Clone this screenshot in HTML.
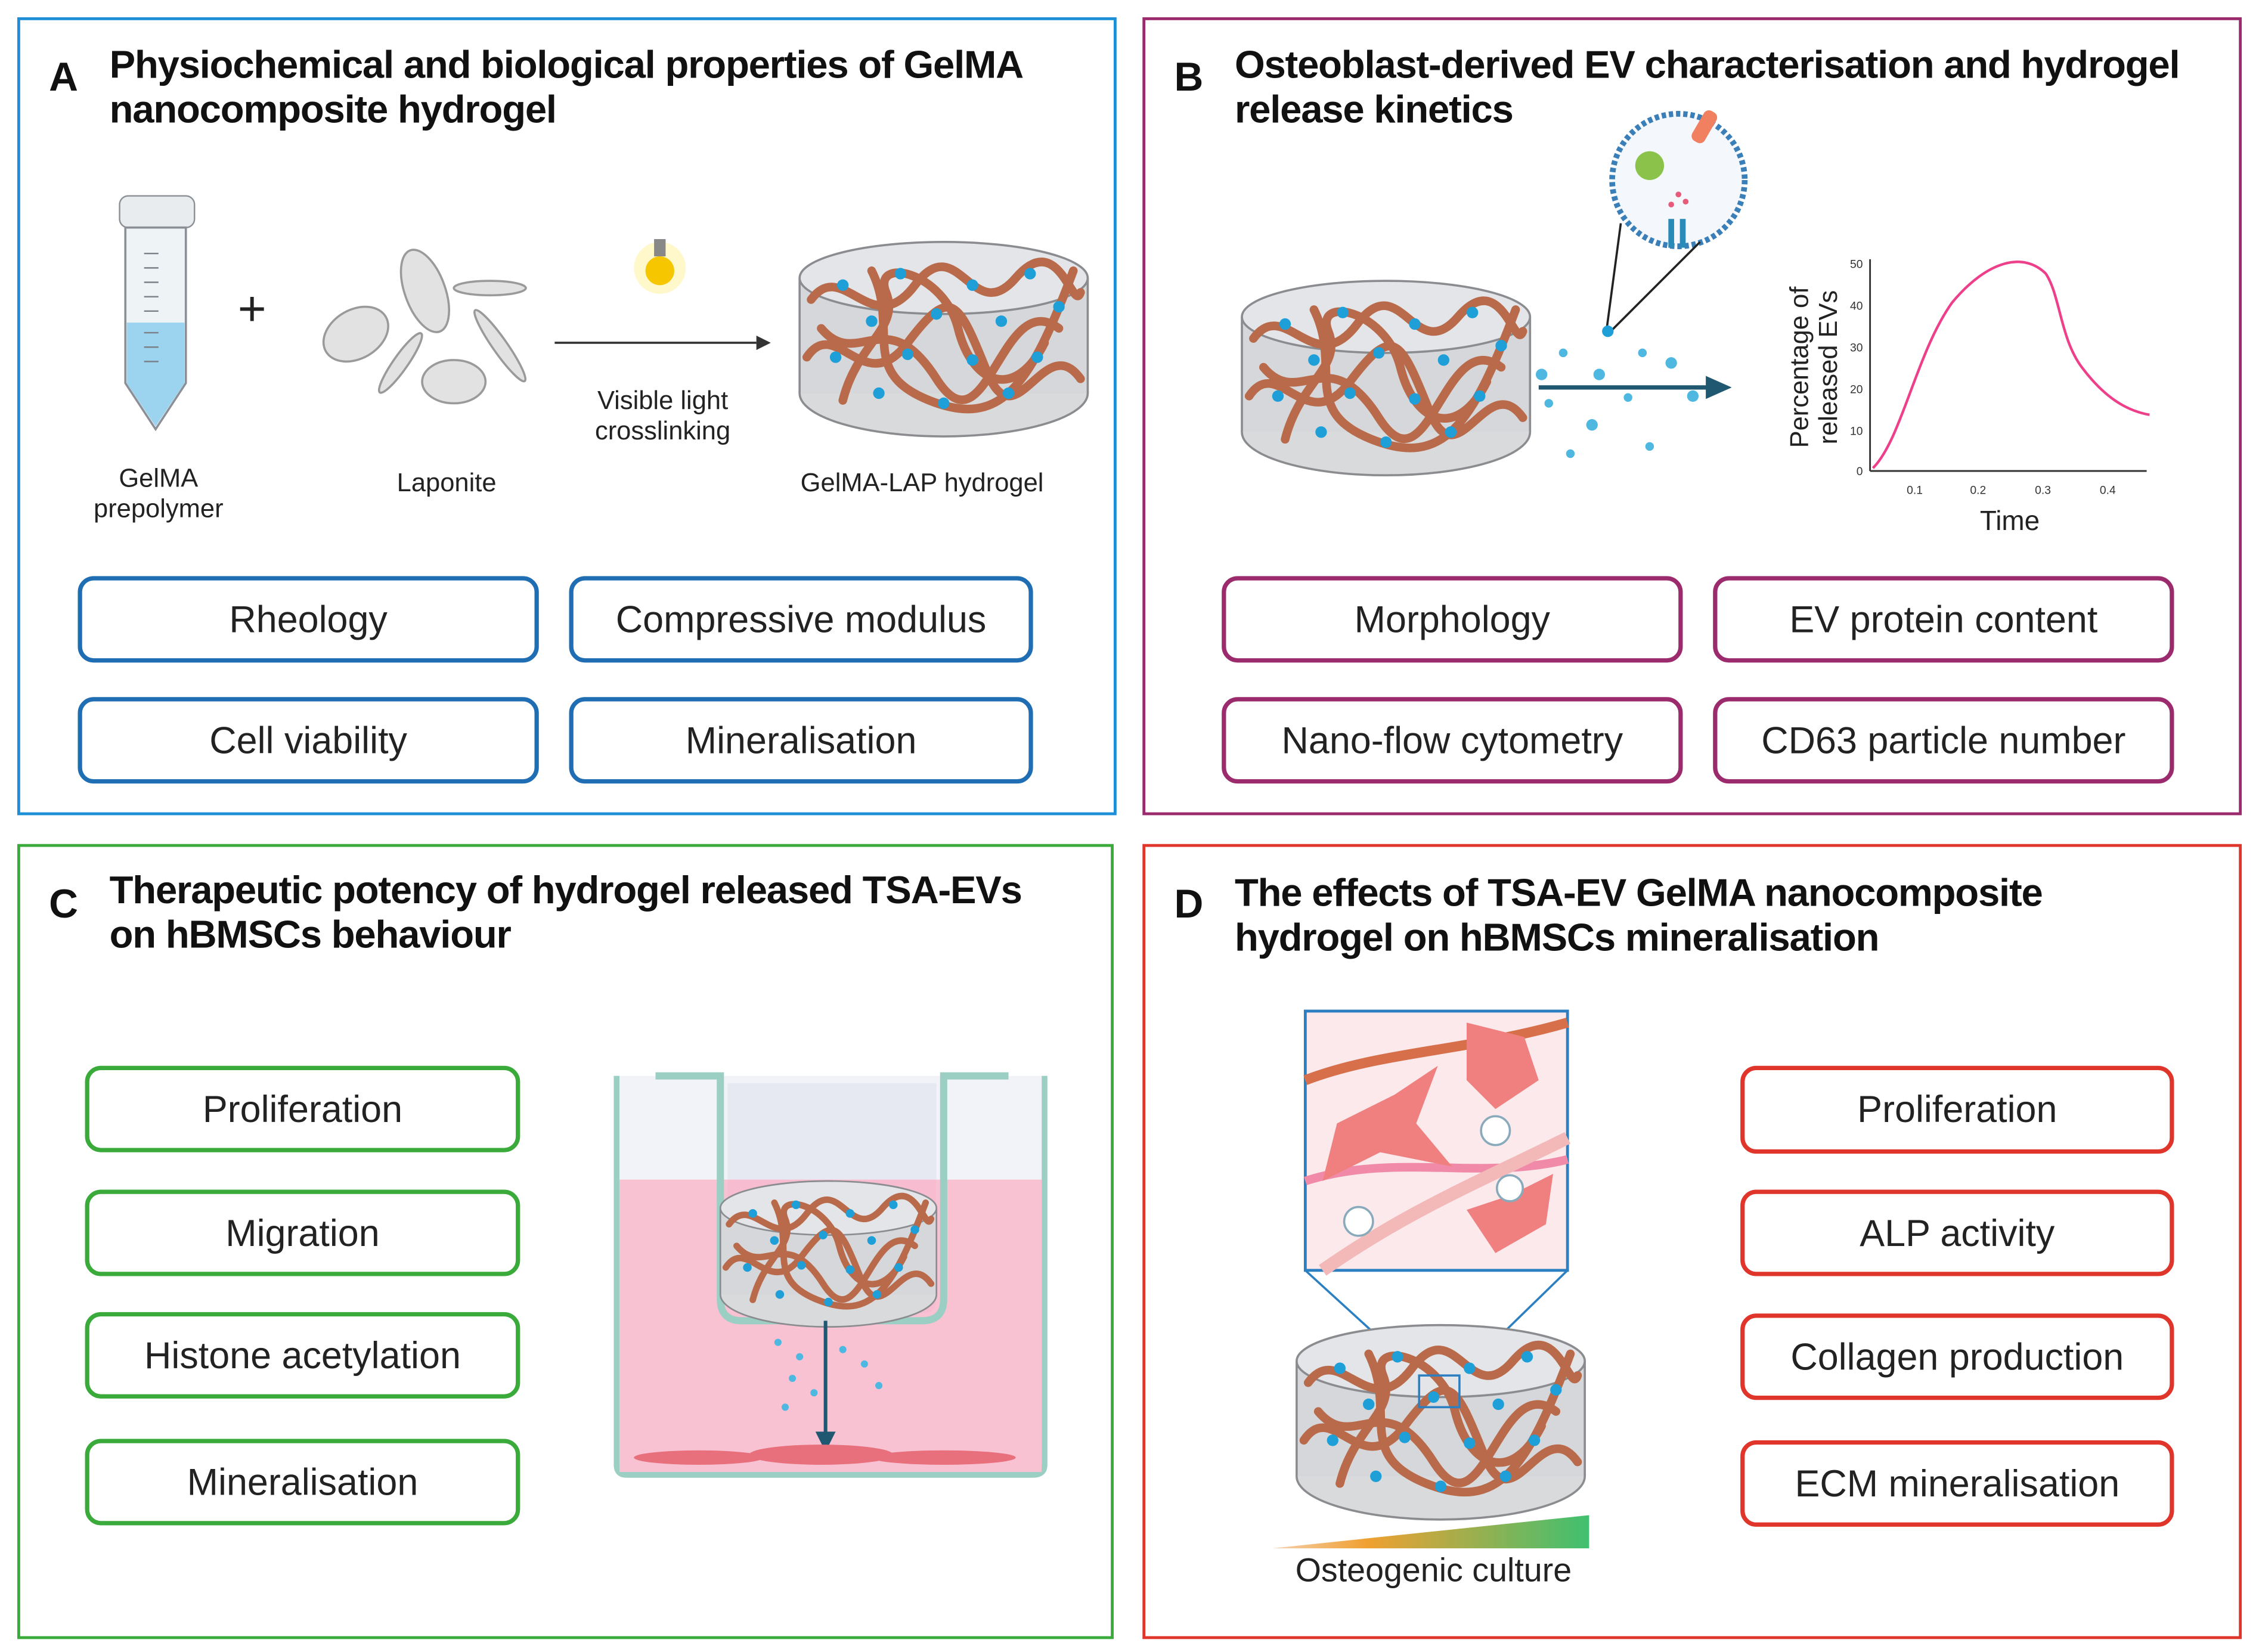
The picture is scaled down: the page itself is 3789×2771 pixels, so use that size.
<!DOCTYPE html>
<html><head><meta charset="utf-8">
<style>
html,body{margin:0;padding:0;background:#fff;}
body{width:3789px;height:2771px;overflow:hidden;font-family:"Liberation Sans",sans-serif;}
#w{position:absolute;left:0;top:0;width:1568px;height:1147px;transform:scale(2.4165,2.4159);transform-origin:0 0;}
.p{position:absolute;box-sizing:border-box;border:2px solid;}
.t{position:absolute;font-weight:bold;font-size:27px;line-height:31px;color:#111;letter-spacing:-0.5px;}
.L{position:absolute;font-weight:bold;font-size:28px;color:#111;}
.b{position:absolute;box-sizing:border-box;border:3px solid;border-radius:11px;display:flex;align-items:center;justify-content:center;font-size:26px;color:#222;background:#fff;}
.s{position:absolute;font-size:18px;color:#222;text-align:center;line-height:21px;}
svg{position:absolute;overflow:visible;}
</style></head><body><div id="w">
<svg width="0" height="0"><defs>
<g id="gel">
<ellipse cx="100" cy="105" rx="100" ry="30" fill="#d9dadc" stroke="#8a8c90" stroke-width="1.5"/>
<rect x="0" y="25" width="200" height="80" fill="#d6d7da"/>
<line x1="0" y1="25" x2="0" y2="105" stroke="#8a8c90" stroke-width="1.5"/>
<line x1="200" y1="25" x2="200" y2="105" stroke="#8a8c90" stroke-width="1.5"/>
<ellipse cx="100" cy="25" rx="100" ry="25" fill="#e4e5e8" stroke="#8a8c90" stroke-width="1.5"/>
<g fill="none" stroke="#b86a4a" stroke-width="6" stroke-linecap="round">
<path d="M8 40 C30 10,50 70,80 30 S120 60,150 25 S190 50,195 35"/>
<path d="M5 80 C25 50,45 110,75 70 S110 40,130 90 S170 60,195 95"/>
<path d="M30 110 C40 70,70 60,60 35 S100 20,110 60 S150 110,170 70"/>
<path d="M15 60 C40 90,60 40,95 95 S140 30,180 60"/>
<path d="M50 20 C70 60,40 90,90 110 S160 100,190 20"/>
</g>
<g fill="#1e9fd8">
<circle cx="30" cy="30" r="4"/><circle cx="70" cy="22" r="4"/><circle cx="120" cy="30" r="4"/><circle cx="160" cy="22" r="4"/>
<circle cx="50" cy="55" r="4"/><circle cx="95" cy="50" r="4"/><circle cx="140" cy="55" r="4"/><circle cx="180" cy="45" r="4"/>
<circle cx="25" cy="80" r="4"/><circle cx="75" cy="78" r="4"/><circle cx="120" cy="82" r="4"/><circle cx="165" cy="80" r="4"/>
<circle cx="55" cy="105" r="4"/><circle cx="100" cy="112" r="4"/><circle cx="145" cy="105" r="4"/>
</g>
</g>
</defs></svg>

<div class="p" style="left:12px;top:12px;width:763px;height:554px;border-color:#1d8fd6"></div>
<div class="p" style="left:793px;top:12px;width:763px;height:554px;border-color:#9b2b6c"></div>
<div class="p" style="left:12px;top:586px;width:761px;height:552px;border-color:#3aaa3a"></div>
<div class="p" style="left:793px;top:586px;width:763px;height:552px;border-color:#e0352b"></div>

<div class="L" style="left:34px;top:38px">A</div>
<div class="t" style="left:76px;top:30px">Physiochemical and biological properties of GelMA<br>nanocomposite hydrogel</div>
<div class="L" style="left:815px;top:38px">B</div>
<div class="t" style="left:857px;top:30px">Osteoblast-derived EV characterisation and hydrogel<br>release kinetics</div>
<div class="L" style="left:34px;top:612px">C</div>
<div class="t" style="left:76px;top:603px">Therapeutic potency of hydrogel released TSA-EVs<br>on hBMSCs behaviour</div>
<div class="L" style="left:815px;top:612px">D</div>
<div class="t" style="left:857px;top:605px">The effects of TSA-EV GelMA nanocomposite<br>hydrogel on hBMSCs mineralisation</div>

<svg style="left:80px;top:136px" width="60" height="165">
<rect x="3" y="0" width="52" height="22" rx="6" fill="#e8ecef" stroke="#8a9096"/>
<path d="M7 22 L7 130 L28 162 L49 130 L49 22 Z" fill="#eef3f6" stroke="#8a9096" stroke-width="1.5"/>
<path d="M8 88 L48 88 L48 130 L28 160 L8 130 Z" fill="#9cd3ef"/>
<g stroke="#7a8088" stroke-width="1">
<line x1="20" y1="40" x2="30" y2="40"/><line x1="20" y1="50" x2="30" y2="50"/><line x1="20" y1="60" x2="30" y2="60"/><line x1="20" y1="70" x2="30" y2="70"/><line x1="20" y1="80" x2="30" y2="80"/><line x1="20" y1="95" x2="30" y2="95"/><line x1="20" y1="105" x2="30" y2="105"/><line x1="20" y1="115" x2="30" y2="115"/></g>
</svg>
<div class="s" style="left:165px;top:205px;font-size:34px">+</div>
<svg style="left:220px;top:170px" width="150" height="115">
<g fill="#e2e2e2" stroke="#9a9a9a" stroke-width="1.5">
<ellipse cx="75" cy="32" rx="14" ry="30" transform="rotate(-20 75 32)"/>
<ellipse cx="120" cy="30" rx="25" ry="5"/>
<ellipse cx="27" cy="62" rx="24" ry="17" transform="rotate(-30 27 62)"/>
<ellipse cx="58" cy="82" rx="5" ry="25" transform="rotate(35 58 82)"/>
<ellipse cx="95" cy="95" rx="22" ry="15"/>
<ellipse cx="127" cy="70" rx="5" ry="30" transform="rotate(-35 127 70)"/>
</g></svg>
<svg style="left:444px;top:160px" width="30" height="50">
<circle cx="14" cy="26" r="18" fill="#fff4a8" opacity="0.6"/>
<circle cx="14" cy="28" r="10" fill="#f6c700"/>
<rect x="10" y="6" width="8" height="12" fill="#888"/>
</svg>
<svg style="left:385px;top:232px" width="150" height="10"><line x1="0" y1="6" x2="140" y2="6" stroke="#333" stroke-width="1.5"/><path d="M140 1 L150 6 L140 11 Z" fill="#333"/></svg>
<svg style="left:555px;top:168px" width="200" height="140" viewBox="0 0 200 140"><use href="#gel"/></svg>
<div class="s" style="left:60px;top:322px;width:100px">GelMA<br>prepolymer</div>
<div class="s" style="left:260px;top:325px;width:100px">Laponite</div>
<div class="s" style="left:395px;top:268px;width:130px">Visible light<br>crosslinking</div>
<div class="s" style="left:540px;top:325px;width:200px">GelMA-LAP hydrogel</div>

<div class="b" style="left:54px;top:400px;width:320px;height:60px;border-color:#1f6db3">Rheology</div>
<div class="b" style="left:395px;top:400px;width:322px;height:60px;border-color:#1f6db3">Compressive modulus</div>
<div class="b" style="left:54px;top:484px;width:320px;height:60px;border-color:#1f6db3">Cell viability</div>
<div class="b" style="left:395px;top:484px;width:322px;height:60px;border-color:#1f6db3">Mineralisation</div>

<svg style="left:862px;top:195px" width="200" height="140" viewBox="0 0 200 140"><use href="#gel"/></svg>
<svg style="left:1060px;top:80px" width="150" height="240">
<circle cx="105" cy="45" r="46" fill="#f4f7fb" stroke="#3a7fb8" stroke-width="4" stroke-dasharray="3 2"/>
<circle cx="85" cy="35" r="10" fill="#8bc34a"/>
<rect x="118" y="-4" width="10" height="24" rx="4" fill="#f08060" transform="rotate(30 123 8)"/>
<g fill="#e85a7a"><circle cx="105" cy="55" r="2"/><circle cx="110" cy="60" r="2"/><circle cx="100" cy="62" r="2"/></g>
<rect x="98" y="72" width="4" height="20" fill="#2a8ab8"/><rect x="106" y="72" width="4" height="20" fill="#2a8ab8"/>
<line x1="65" y1="75" x2="55" y2="150" stroke="#222" stroke-width="1.5"/>
<line x1="120" y1="88" x2="58" y2="150" stroke="#222" stroke-width="1.5"/>
<circle cx="56" cy="150" r="4" fill="#1e9fd8"/>
<g fill="#4fb8e0"><circle cx="10" cy="180" r="4"/><circle cx="25" cy="165" r="3"/><circle cx="50" cy="180" r="4"/><circle cx="80" cy="165" r="3"/><circle cx="100" cy="172" r="4"/><circle cx="15" cy="200" r="3"/><circle cx="45" cy="215" r="4"/><circle cx="70" cy="196" r="3"/><circle cx="115" cy="195" r="4"/><circle cx="85" cy="230" r="3"/><circle cx="30" cy="235" r="3"/></g>
</svg>
<svg style="left:1068px;top:260px" width="135" height="20"><line x1="0" y1="9" x2="118" y2="9" stroke="#1f5870" stroke-width="3"/><path d="M116 1 L134 9 L116 17 Z" fill="#1f5870"/></svg>
<svg style="left:1230px;top:165px" width="270" height="210">
<line x1="68" y1="15" x2="68" y2="162" stroke="#333" stroke-width="1.2"/>
<line x1="68" y1="162" x2="260" y2="162" stroke="#333" stroke-width="1.2"/>
<g font-size="8" fill="#333" text-anchor="end"><text x="63" y="21">50</text><text x="63" y="50">40</text><text x="63" y="79">30</text><text x="63" y="108">20</text><text x="63" y="137">10</text><text x="63" y="165">0</text></g>
<g font-size="8" fill="#333" text-anchor="middle"><text x="99" y="178">0.1</text><text x="143" y="178">0.2</text><text x="188" y="178">0.3</text><text x="233" y="178">0.4</text></g>
<path d="M70 160 C90 140,100 80,125 45 C150 15,175 10,190 25 C200 40,200 70,215 90 C230 110,245 120,262 123" fill="none" stroke="#ee3f8a" stroke-width="1.8"/>
<text x="165" y="203" font-size="19" fill="#222" text-anchor="middle">Time</text>
<text transform="translate(25 90) rotate(-90)" font-size="18" fill="#222" text-anchor="middle">Percentage of</text>
<text transform="translate(45 90) rotate(-90)" font-size="18" fill="#222" text-anchor="middle">released EVs</text>
</svg>

<div class="b" style="left:848px;top:400px;width:320px;height:60px;border-color:#9b2b6c">Morphology</div>
<div class="b" style="left:1189px;top:400px;width:320px;height:60px;border-color:#9b2b6c">EV protein content</div>
<div class="b" style="left:848px;top:484px;width:320px;height:60px;border-color:#9b2b6c">Nano-flow cytometry</div>
<div class="b" style="left:1189px;top:484px;width:320px;height:60px;border-color:#9b2b6c">CD63 particle number</div>

<div class="b" style="left:59px;top:740px;width:302px;height:60px;border-color:#3aaa3a">Proliferation</div>
<div class="b" style="left:59px;top:826px;width:302px;height:60px;border-color:#3aaa3a">Migration</div>
<div class="b" style="left:59px;top:911px;width:302px;height:60px;border-color:#3aaa3a">Histone acetylation</div>
<div class="b" style="left:59px;top:999px;width:302px;height:60px;border-color:#3aaa3a">Mineralisation</div>
<svg style="left:425px;top:742px" width="305" height="285">
<path d="M3 5 L3 275 Q3 282 10 282 L292 282 Q300 282 300 275 L300 5" fill="#fff" stroke="#9ccfc4" stroke-width="4"/>
<rect x="5" y="5" width="293" height="72" fill="#f1f3f8"/>
<rect x="5" y="77" width="293" height="203" fill="#f8c2d3"/>
<path d="M30 5 L75 5 L75 160 Q75 175 90 175 L215 175 Q230 175 230 160 L230 5 L275 5" fill="none" stroke="#9ccfc4" stroke-width="5"/>
<path d="M80 10 L225 10 L225 160 Q225 170 215 170 L90 170 Q80 170 80 160 Z" fill="#e4e6f0" opacity="0.8"/>
<path d="M80 77 L225 77 L225 160 Q225 170 215 170 L90 170 Q80 170 80 160 Z" fill="#f8bcd0"/>
<g transform="translate(75 78) scale(0.75)"><use href="#gel"/></g>
<g fill="#4fb8e0"><circle cx="115" cy="190" r="2.5"/><circle cx="130" cy="200" r="2.5"/><circle cx="125" cy="215" r="2.5"/><circle cx="160" cy="195" r="2.5"/><circle cx="175" cy="205" r="2.5"/><circle cx="140" cy="225" r="2.5"/><circle cx="185" cy="220" r="2.5"/><circle cx="120" cy="235" r="2.5"/></g>
<line x1="148" y1="175" x2="148" y2="255" stroke="#1f5870" stroke-width="2.5"/>
<path d="M141 252 L148 266 L155 252 Z" fill="#1f5870"/>
<g fill="#e8707c"><ellipse cx="60" cy="270" rx="45" ry="5"/><ellipse cx="145" cy="268" rx="50" ry="7"/><ellipse cx="230" cy="270" rx="50" ry="5"/></g>
</svg>

<svg style="left:898px;top:700px" width="230" height="400">
<rect x="8" y="2" width="182" height="180" fill="#fbe9ec" stroke="#2c7fc0" stroke-width="2"/>
<path d="M8 50 C60 30,120 30,190 10" stroke="#d7704a" stroke-width="7" fill="none"/>
<path d="M8 120 C70 100,130 120,190 105" stroke="#f08aa8" stroke-width="6" fill="none"/>
<path d="M20 182 C80 140,130 120,190 90" stroke="#f3b8b8" stroke-width="9" fill="none"/>
<g fill="#f08080"><path d="M30 80 L70 60 L100 40 L85 80 L110 110 L60 100 L20 120 Z"/><path d="M120 10 L160 20 L170 50 L140 70 L120 50 Z"/><path d="M120 140 L150 130 L180 115 L175 150 L140 170 Z"/></g>
<circle cx="140" cy="85" r="10" fill="#fff" stroke="#8ab" stroke-width="1.5"/><circle cx="45" cy="148" r="10" fill="#fff" stroke="#8ab" stroke-width="1.5"/><circle cx="150" cy="125" r="9" fill="#fff" stroke="#8ab" stroke-width="1.5"/>
<line x1="8" y1="182" x2="88" y2="255" stroke="#2c7fc0" stroke-width="1.5"/>
<line x1="190" y1="182" x2="115" y2="255" stroke="#2c7fc0" stroke-width="1.5"/>
<g transform="translate(2 220)"><use href="#gel"/></g>
<rect x="87" y="255" width="28" height="22" fill="none" stroke="#2c7fc0" stroke-width="1.5"/>
<defs><linearGradient id="gr" x1="0" x2="1"><stop offset="0" stop-color="#f5d0b0"/><stop offset="0.3" stop-color="#f0a030"/><stop offset="1" stop-color="#3fc070"/></linearGradient></defs>
<path d="M-15 375 L205 352 L205 375 Z" fill="url(#gr)"/>
</svg>
<div class="s" style="left:870px;top:1080px;width:250px;font-size:23px">Osteogenic culture</div>
<div class="b" style="left:1208px;top:740px;width:301px;height:61px;border-color:#e0352b">Proliferation</div>
<div class="b" style="left:1208px;top:826px;width:301px;height:60px;border-color:#e0352b">ALP activity</div>
<div class="b" style="left:1208px;top:912px;width:301px;height:60px;border-color:#e0352b">Collagen production</div>
<div class="b" style="left:1208px;top:1000px;width:301px;height:60px;border-color:#e0352b">ECM mineralisation</div>
</div></body></html>
